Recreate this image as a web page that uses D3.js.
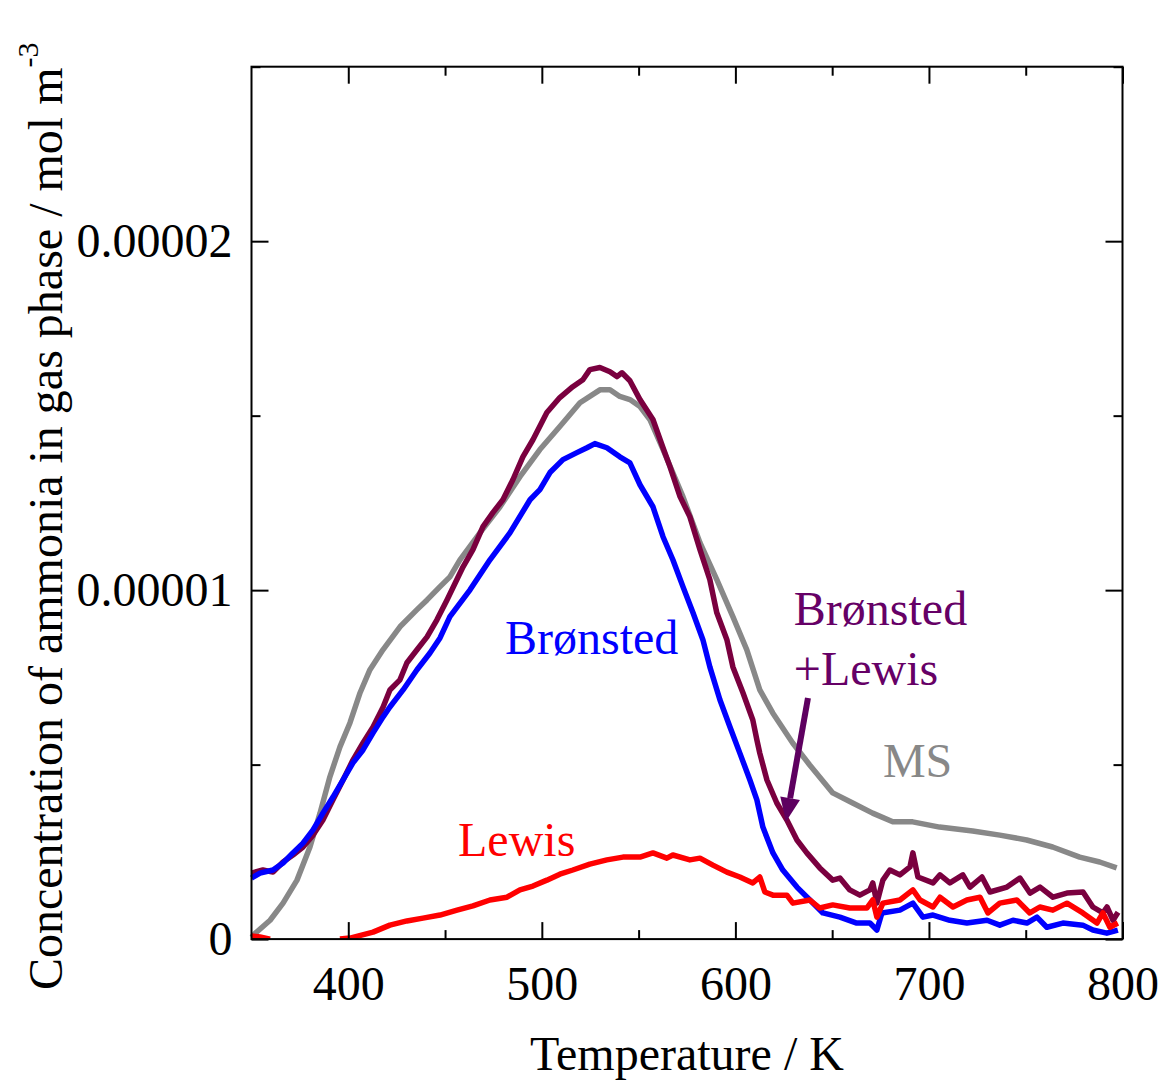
<!DOCTYPE html>
<html lang="en">
<head>
    <meta charset="UTF-8">
    <title>Ammonia concentration vs temperature</title>
    <script src="https://d3js.org/d3.v7.min.js"></script>
    <style>
        body { margin: 0; background: #fff; }
        svg text { font-family: "Liberation Serif", "Times New Roman", serif; }
    </style>
</head>
<body>
    <div id="chart-container"></div>
    <script>
        // values are in units of 1e-6 mol m^-3
        const unit = 1e-6;

        const msT = [350, 352, 359.6, 366.3, 373.5, 380.2, 385.4, 390.5, 395.7, 400.9, 406.1, 411.2, 417.9, 426.7, 435.5, 440.7, 447.4, 452.5, 457.7, 468, 478.4, 488.7, 499, 509.3, 519.7, 530, 535.2, 540.3, 545.5, 550.7, 555.8, 562.6, 572.9, 581.7, 590.4, 598.7, 605.9, 612.6, 619.3, 629.6, 638.4, 650.3, 660.6, 670.9, 681.3, 691.6, 705.5, 722.6, 736.6, 750.5, 763.9, 777.9, 788.2, 797];
        const msV = [0.05, 0.17, 0.54, 1.03, 1.69, 2.64, 3.61, 4.65, 5.51, 6.2, 7.06, 7.72, 8.29, 8.95, 9.44, 9.72, 10.1, 10.38, 10.87, 11.64, 12.39, 13.25, 14.03, 14.69, 15.37, 15.74, 15.74, 15.55, 15.46, 15.26, 14.89, 14.03, 12.68, 11.36, 10.3, 9.24, 8.29, 7.14, 6.48, 5.62, 4.99, 4.19, 3.9, 3.61, 3.36, 3.36, 3.21, 3.1, 2.98, 2.84, 2.64, 2.35, 2.21, 2.04];

        const bronstedT = [350, 354.4, 361.1, 366.3, 371.4, 376.6, 381.8, 386.9, 392.1, 397.3, 402.4, 407.6, 412.8, 418, 421.5, 428.3, 435.5, 442.2, 447.4, 452.5, 462.9, 473.2, 483.5, 493.9, 499, 504.2, 510.9, 518.1, 523.3, 527.4, 533.6, 540.3, 545.5, 550.7, 557.4, 562.6, 567.7, 572.9, 578.1, 583.2, 586.8, 592, 597.2, 602.3, 607.5, 611.1, 614.2, 619.4, 624.5, 631.8, 638.5, 645.2, 654, 662.7, 669.5, 673.1, 675.7, 685, 691.7, 696.9, 702.1, 710.8, 719.6, 730, 736.6, 743.4, 750.6, 755.8, 760.9, 769.2, 779.5, 784.7, 791.9, 797.6];
        const bronstedV = [1.75, 1.89, 1.98, 2.18, 2.47, 2.75, 3.13, 3.61, 4.07, 4.56, 5.05, 5.42, 5.91, 6.37, 6.65, 7.14, 7.72, 8.2, 8.63, 9.24, 10.01, 10.87, 11.64, 12.59, 12.88, 13.37, 13.74, 13.94, 14.08, 14.2, 14.08, 13.82, 13.65, 13.02, 12.39, 11.53, 10.87, 10.1, 9.35, 8.58, 7.8, 6.86, 6.08, 5.33, 4.56, 3.99, 3.21, 2.47, 1.98, 1.49, 1.12, 0.75, 0.63, 0.46, 0.46, 0.26, 0.75, 0.83, 1.03, 0.63, 0.69, 0.54, 0.46, 0.54, 0.4, 0.54, 0.46, 0.63, 0.34, 0.46, 0.4, 0.26, 0.17, 0.26];

        const bothT = [350, 355.9, 361.1, 366.3, 371.4, 376.6, 381.8, 386.9, 392.1, 397.3, 402.4, 407.6, 412.8, 418, 421.5, 426.7, 430.3, 435.5, 440.7, 445.8, 451, 459.3, 464.4, 469.6, 474.7, 479.9, 485.1, 490.2, 495.4, 502.6, 509.3, 516, 521.2, 524.8, 530, 535.2, 538.8, 541.4, 545.5, 550.7, 557.4, 562.6, 566.2, 571.4, 576.5, 581.7, 586.8, 590.4, 595.6, 598.7, 603.9, 609, 611.1, 612.6, 616.3, 621.4, 626.6, 631.8, 636.9, 643.6, 650.3, 654, 659.1, 664.3, 669.5, 671, 673.1, 676.2, 679.8, 685, 690.2, 691.7, 694.3, 702.1, 705.7, 710.8, 717.5, 721.2, 727.4, 731.5, 740.3, 747, 752.2, 757.4, 764.1, 771.3, 779.6, 784.7, 789.9, 792, 795.1, 797.7];
        const bothV = [1.89, 1.98, 1.92, 2.21, 2.41, 2.64, 2.98, 3.41, 3.99, 4.56, 5.13, 5.62, 6.08, 6.65, 7.14, 7.43, 7.92, 8.29, 8.66, 9.15, 9.72, 10.67, 11.16, 11.82, 12.22, 12.59, 13.17, 13.82, 14.31, 15.09, 15.52, 15.83, 16.03, 16.32, 16.38, 16.26, 16.12, 16.23, 16, 15.46, 14.89, 14.08, 13.54, 12.68, 12.1, 11.16, 10.3, 9.35, 8.58, 7.8, 7.06, 6.28, 5.71, 5.33, 4.56, 3.9, 3.41, 2.84, 2.47, 2.04, 1.69, 1.75, 1.41, 1.26, 1.41, 1.61, 1.03, 1.69, 1.98, 1.84, 2.07, 2.47, 1.78, 1.61, 1.84, 1.61, 1.84, 1.49, 1.78, 1.35, 1.49, 1.75, 1.32, 1.49, 1.2, 1.32, 1.35, 0.92, 0.75, 0.92, 0.54, 0.77];

        // null = gap in the trace
        const lewisT = [350, 354.4, 359.6, 362, 395.7, 400.9, 412.8, 421.5, 430.3, 438.6, 447.4, 456.2, 464.4, 473.2, 482, 488.7, 495.4, 502.6, 509.3, 516, 524.8, 533.6, 541.9, 550.7, 557.4, 564.6, 567.7, 576.5, 581.7, 588.4, 595.6, 602.3, 609, 612.6, 615.2, 619.4, 626.6, 629.7, 638.5, 643.6, 650.3, 659.1, 667.9, 671, 673.1, 676.2, 685, 691.7, 695.4, 702.1, 705.7, 712.4, 719.6, 726.4, 730.5, 736.6, 745.4, 752.1, 757.3, 764, 771.3, 779.5, 786.8, 789.9, 793.5, 797.6];
        const lewisV = [0.09, 0.06, 0, null, 0, 0.03, 0.2, 0.4, 0.52, 0.6, 0.69, 0.83, 0.95, 1.12, 1.2, 1.41, 1.52, 1.69, 1.86, 1.98, 2.15, 2.27, 2.35, 2.35, 2.47, 2.32, 2.41, 2.27, 2.32, 2.12, 1.92, 1.78, 1.61, 1.78, 1.35, 1.26, 1.26, 1.03, 1.12, 0.89, 0.98, 0.89, 0.89, 1.12, 0.63, 1.03, 1.12, 1.41, 1.12, 0.92, 1.2, 0.92, 1.12, 1.2, 0.75, 1.03, 1.12, 0.75, 0.92, 0.83, 1.03, 0.75, 0.46, 0.75, 0.34, 0.46];

        const xMajor = [400, 500, 600, 700, 800];
        const xMinor = [450, 550, 650, 750];
        const yMajor = [0, 10, 20];
        const yMinor = [5, 15, 25];
        const yLabels = ["0", "0.00001", "0.00002"];

        const margin = { top: 66.7, right: 41.5, bottom: 142.9, left: 251.5 };
        const width = 1164 - margin.left - margin.right;
        const height = 1082 - margin.top - margin.bottom;

        const svg = d3.select("#chart-container").append("svg")
            .attr("width", 1164)
            .attr("height", 1082);
        const g = svg.append("g")
            .attr("transform", `translate(${margin.left},${margin.top})`);

        const x = d3.scaleLinear().domain([350, 800]).range([0, width]);
        const y = d3.scaleLinear().domain([0, 25 * unit]).range([height, 0]);

        g.append("clipPath").attr("id", "plot-clip")
            .append("rect").attr("x", -2).attr("y", 0).attr("width", width + 2).attr("height", height);

        const series = [
            { T: msT, V: msV, color: "#888888" },
            { T: bothT, V: bothV, color: "#7a003f" },
            { T: bronstedT, V: bronstedV, color: "#0000ff" },
            { T: lewisT, V: lewisV, color: "#ff0000" }
        ];

        const line = d3.line()
            .defined(d => d.v !== null)
            .x(d => x(d.t))
            .y(d => y(d.v * unit));

        series.forEach(s => {
            const pts = s.T.map((t, i) => ({ t: t, v: s.V[i] }));
            g.append("path")
                .datum(pts)
                .attr("clip-path", "url(#plot-clip)")
                .attr("fill", "none")
                .attr("stroke", s.color)
                .attr("stroke-width", 5.5)
                .attr("stroke-linejoin", "round")
                .attr("d", line);
        });

        // axes: ticks inside, mirrored on all sides
        const major = 17, minor = 9;
        g.append("g").attr("transform", `translate(0,${height})`)
            .call(d3.axisBottom(x).tickValues(xMajor).tickSizeInner(-major).tickSizeOuter(0).tickPadding(major + 10).tickFormat(d3.format("d")));
        g.append("g").attr("transform", `translate(0,${height})`)
            .call(d3.axisBottom(x).tickValues(xMinor).tickSizeInner(-minor).tickSizeOuter(0).tickFormat(""));
        g.append("g")
            .call(d3.axisTop(x).tickValues(xMajor).tickSizeInner(-major).tickSizeOuter(0).tickFormat(""));
        g.append("g")
            .call(d3.axisTop(x).tickValues(xMinor).tickSizeInner(-minor).tickSizeOuter(0).tickFormat(""));

        g.append("g")
            .call(d3.axisLeft(y).tickValues(yMajor.map(d => d * unit)).tickSizeInner(-major).tickSizeOuter(0).tickPadding(major + 2)
                .tickFormat((d, i) => yLabels[i]));
        g.append("g")
            .call(d3.axisLeft(y).tickValues(yMinor.map(d => d * unit)).tickSizeInner(-minor).tickSizeOuter(0).tickFormat(""));
        g.append("g").attr("transform", `translate(${width},0)`)
            .call(d3.axisRight(y).tickValues(yMajor.map(d => d * unit)).tickSizeInner(-major).tickSizeOuter(0).tickFormat(""));
        g.append("g").attr("transform", `translate(${width},0)`)
            .call(d3.axisRight(y).tickValues(yMinor.map(d => d * unit)).tickSizeInner(-minor).tickSizeOuter(0).tickFormat(""));

        g.selectAll(".domain").remove();
        g.selectAll(".tick line").attr("stroke", "#000").attr("stroke-width", 2);
        g.selectAll(".tick text").attr("font-size", 48).attr("fill", "#000")
            .style("font-family", "'Liberation Serif', 'Times New Roman', serif");

        g.append("rect")
            .attr("width", width).attr("height", height)
            .attr("fill", "none").attr("stroke", "#000").attr("stroke-width", 2);

        // axis titles
        svg.append("text")
            .attr("x", margin.left + width / 2)
            .attr("y", 1070)
            .attr("text-anchor", "middle")
            .attr("font-size", 48)
            .text("Temperature / K");

        const yTitle = svg.append("text")
            .attr("transform", "translate(62,990) rotate(-90)")
            .attr("font-size", 48);
        yTitle.append("tspan").text("Concentration of ammonia in gas phase / mol m");
        yTitle.append("tspan").attr("font-size", 30).attr("dy", -24).text("-3");

        // annotations, placed in data coordinates
        const labels = [
            { text: "Brønsted", t: 481, v: 8.17, color: "#0000ff" },
            { text: "Brønsted", t: 630.2, v: 9.01, color: "#660066" },
            { text: "+Lewis", t: 630.2, v: 7.29, color: "#660066" },
            { text: "MS", t: 676.2, v: 4.65, color: "#888888" },
            { text: "Lewis", t: 456.7, v: 2.38, color: "#ff0000" }
        ];
        g.selectAll(".note").data(labels).enter().append("text")
            .attr("class", "note")
            .attr("x", d => x(d.t))
            .attr("y", d => y(d.v * unit))
            .attr("font-size", 48)
            .attr("fill", d => d.color)
            .text(d => d.text);

        const arrowFrom = { t: 637.5, v: 6.91 };
        const arrowTo = { t: 626.1, v: 3.36 };
        const x0 = x(arrowFrom.t), y0 = y(arrowFrom.v * unit);
        const x1 = x(arrowTo.t), y1 = y(arrowTo.v * unit);
        const ang = Math.atan2(y1 - y0, x1 - x0);
        const headLen = 24, headW = 10;
        const bx = x1 - headLen * Math.cos(ang), by = y1 - headLen * Math.sin(ang);
        g.append("line")
            .attr("x1", x0).attr("y1", y0).attr("x2", bx).attr("y2", by)
            .attr("stroke", "#5e0060").attr("stroke-width", 6);
        g.append("polygon")
            .attr("points", [
                [x1, y1],
                [bx + headW * Math.sin(ang), by - headW * Math.cos(ang)],
                [bx - headW * Math.sin(ang), by + headW * Math.cos(ang)]
            ].map(p => p.join(",")).join(" "))
            .attr("fill", "#5e0060");
    </script>
</body>
</html>
